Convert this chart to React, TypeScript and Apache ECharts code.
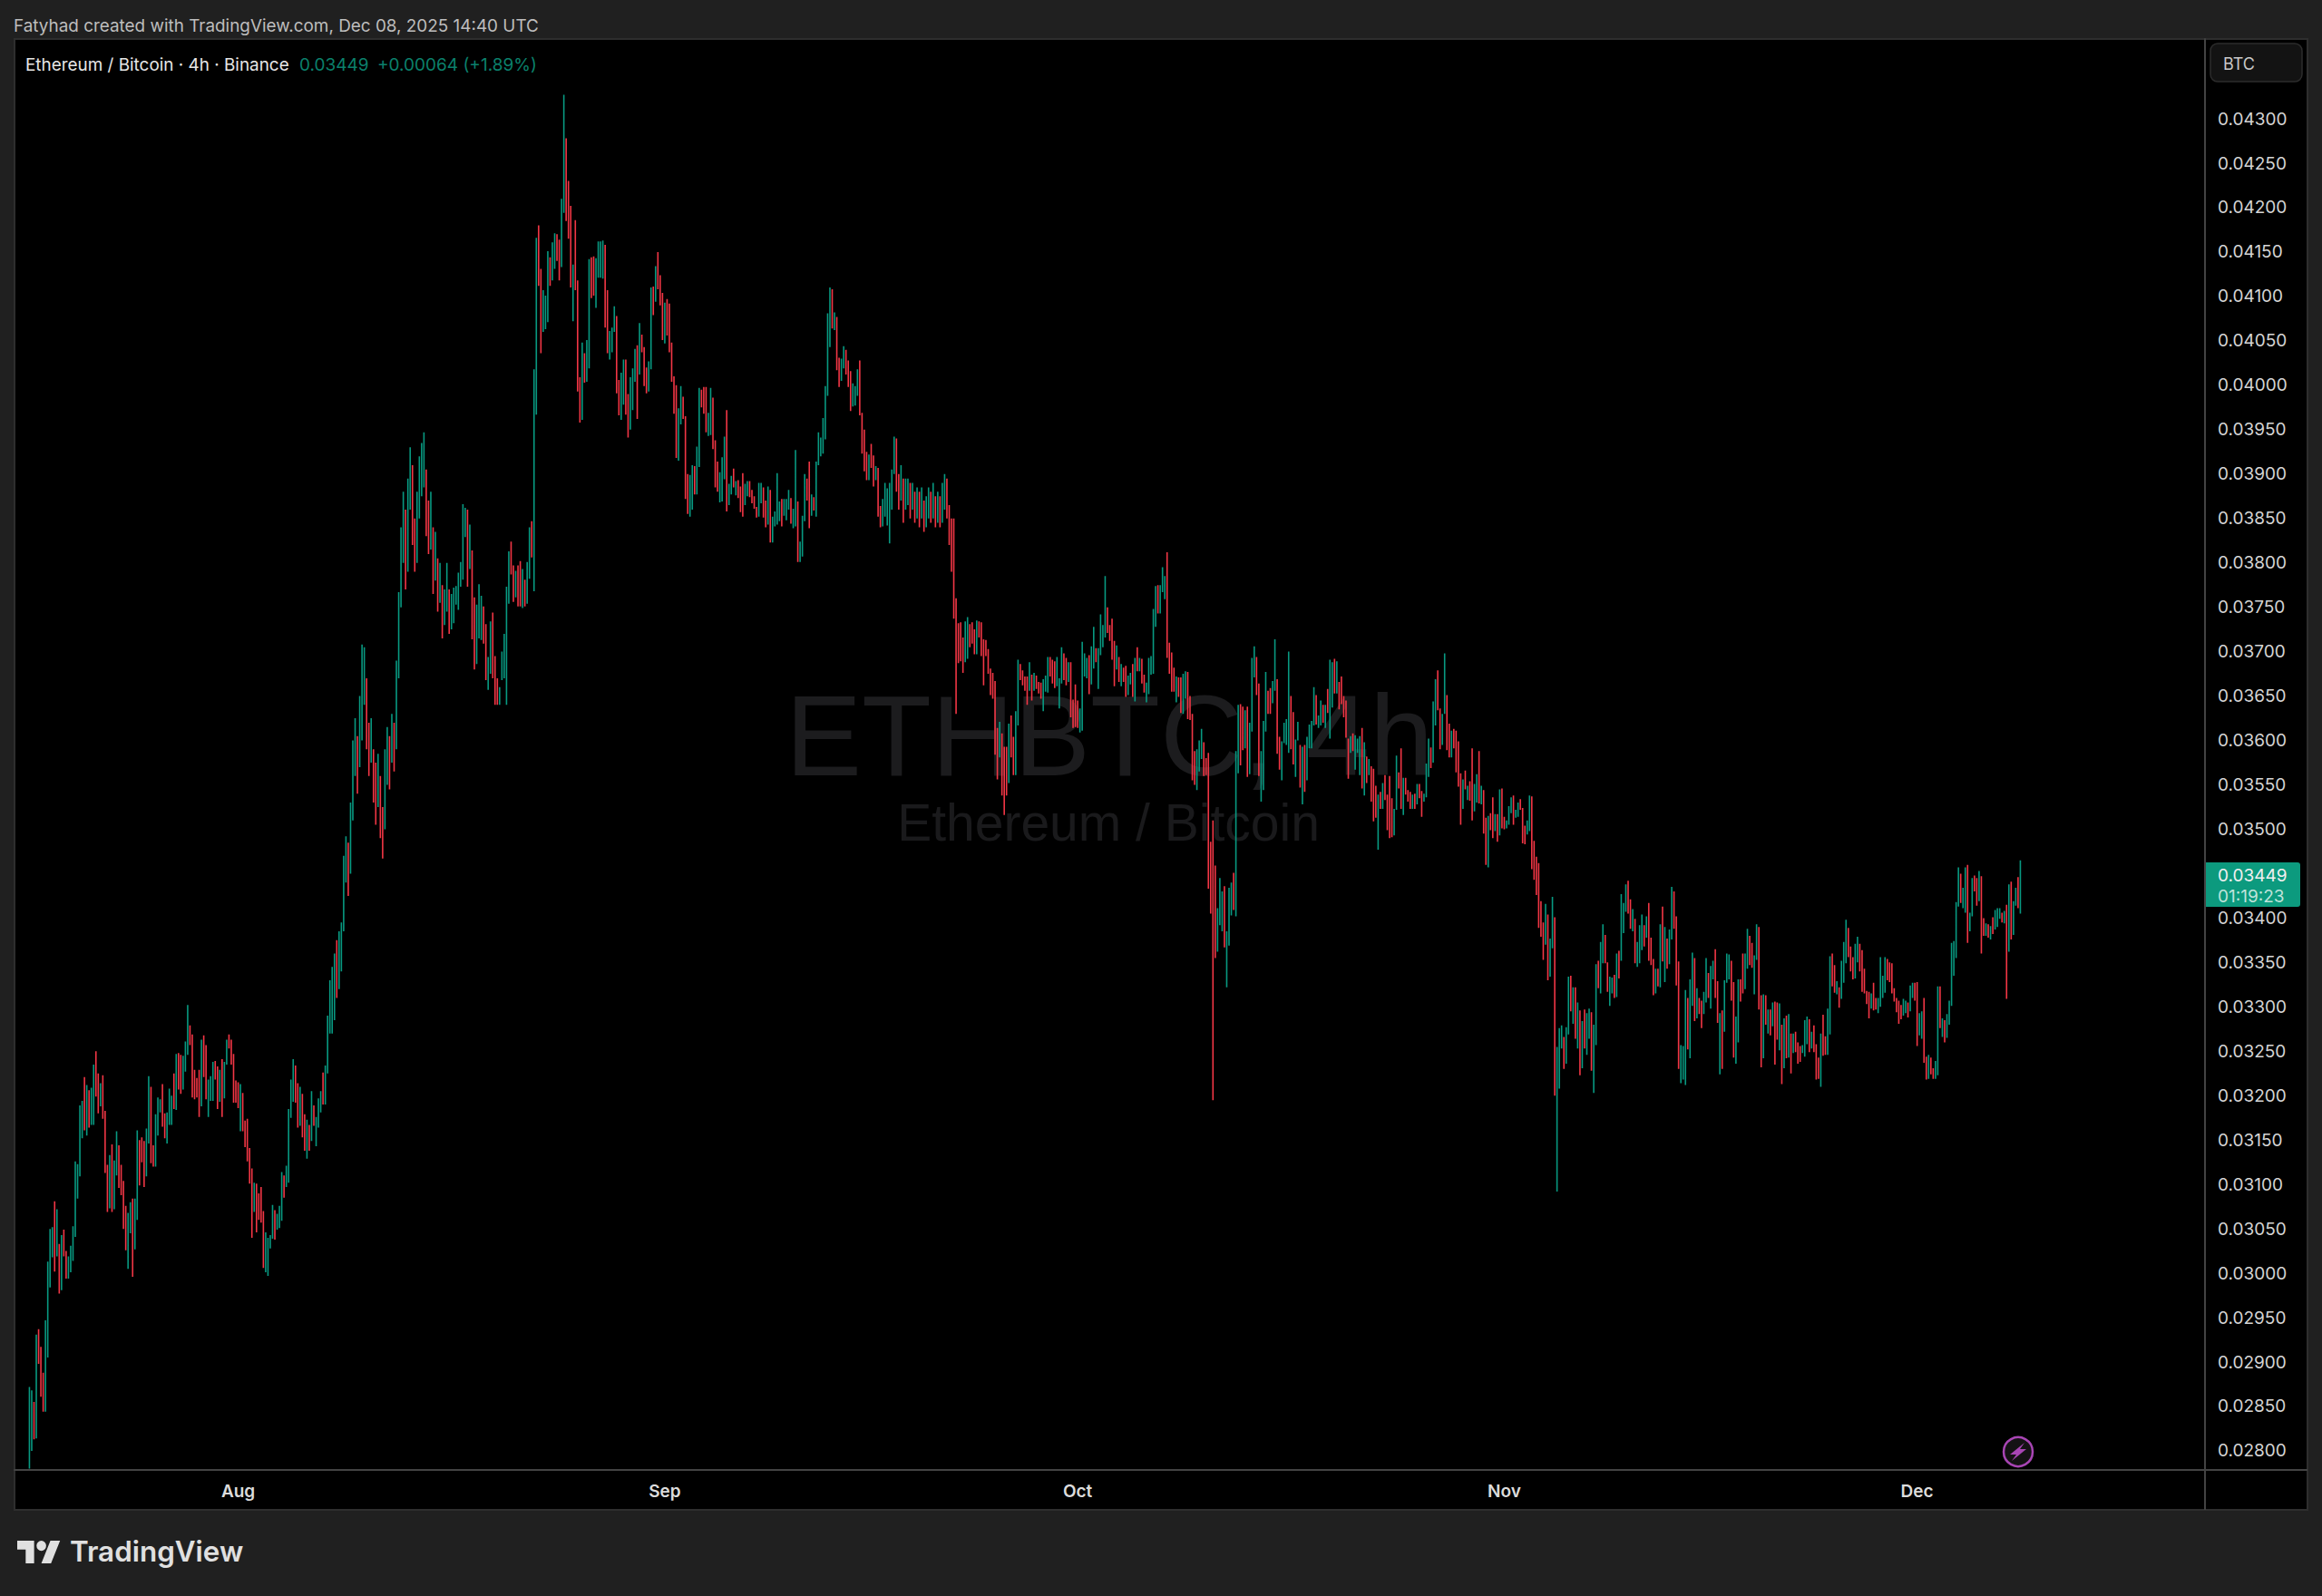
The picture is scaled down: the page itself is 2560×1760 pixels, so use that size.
import { useEffect, useRef } from 'react';
import * as echarts from 'echarts';

// prices in units of 0.00001 BTC
const highs = [
  2872, 2868, 2855, 2931, 2937, 2917, 2888, 2947, 3013, 3050, 3052, 3081, 3072, 3033, 3043, 3049, 3025, 3019, 3031, 3053,
  3126, 3123, 3189, 3194, 3221, 3212, 3206, 3209, 3235, 3250, 3225, 3214, 3223, 3183, 3122, 3133, 3145, 3127, 3160, 3144,
  3122, 3104, 3076, 3068, 3080, 3084, 3084, 3161, 3150, 3153, 3149, 3163, 3222, 3210, 3144, 3179, 3198, 3196, 3213, 3180,
  3181, 3208, 3200, 3225, 3247, 3248, 3246, 3245, 3261, 3302, 3279, 3269, 3229, 3220, 3229, 3263, 3268, 3257, 3218, 3222,
  3238, 3239, 3233, 3229, 3241, 3238, 3263, 3269, 3263, 3247, 3217, 3215, 3213, 3203, 3172, 3174, 3141, 3118, 3102, 3101,
  3090, 3097, 3070, 3046, 3040, 3043, 3077, 3071, 3067, 3076, 3114, 3110, 3121, 3185, 3218, 3241, 3234, 3214, 3210, 3202,
  3179, 3173, 3167, 3205, 3189, 3176, 3197, 3205, 3226, 3234, 3290, 3330, 3345, 3360, 3375, 3385, 3395, 3470, 3492, 3485,
  3530, 3600, 3625, 3605, 3650, 3708, 3705, 3670, 3620, 3625, 3590, 3575, 3585, 3560, 3525, 3590, 3615, 3605, 3630, 3620,
  3690, 3767, 3840, 3880, 3860, 3895, 3930, 3910, 3850, 3880, 3920, 3935, 3947, 3905, 3870, 3880, 3840, 3835, 3805, 3800,
  3775, 3770, 3800, 3770, 3765, 3772, 3774, 3789, 3801, 3866, 3862, 3860, 3843, 3814, 3761,
  3753, 3776, 3763, 3751, 3731, 3694, 3734, 3744, 3695, 3670, 3660, 3700, 3720, 3773, 3813, 3824, 3797, 3791, 3797, 3802,
  3793, 3781, 3801, 3840, 3847, 4018, 4166, 4180, 4131, 4107, 4101, 4151, 4144, 4161, 4171, 4170, 4164, 4210, 4327, 4278,
  4230, 4202, 4136, 4186, 4118, 4009, 4048, 4036, 4051, 4142, 4144, 4145, 4143, 4162, 4162, 4163, 4158, 4107, 4061, 4065,
  4089, 4078, 4006, 4014, 4029, 4029, 3990, 4009, 4019, 4041, 4045, 4070, 4057, 4043, 4020, 4027, 4110, 4111, 4134, 4150,
  4124, 4104, 4093, 4097, 4092, 4048, 4010, 4000, 3974, 3999, 3987, 3965, 3900, 3899, 3910, 3909, 3931, 3997, 3995, 3998,
  3998, 3969, 3997, 3986, 3938, 3914, 3902, 3919, 3942, 3972, 3889, 3898, 3906, 3892, 3893, 3886, 3901, 3889, 3892, 3892,
  3882, 3875, 3863, 3890, 3890, 3885, 3870, 3886, 3882, 3852, 3858, 3901, 3869, 3872, 3872, 3872, 3882, 3873, 3861, 3927,
  3869, 3824, 3853, 3900, 3895, 3914, 3877, 3874, 3914, 3947, 3941, 3963, 3999, 4081, 4110, 4108, 4082, 4077, 4031, 4030,
  4044, 4040, 4028, 4016, 4002, 3999, 4018, 4028, 3969, 3950, 3925, 3922, 3934, 3921, 3909, 3907, 3864, 3872, 3890, 3884,
  3890, 3905, 3942, 3940, 3900, 3910, 3895, 3895, 3895, 3890, 3890, 3880, 3885, 3880, 3885, 3870, 3875, 3885, 3880, 3890,
  3875, 3880, 3875, 3890, 3900, 3895, 3865, 3850, 3850, 3760, 3732, 3733, 3716, 3734, 3739, 3731, 3733, 3725, 3735, 3734,
  3733, 3714, 3713, 3703, 3681, 3676, 3667, 3614, 3621, 3608, 3593, 3593, 3619, 3628, 3604, 3633, 3691, 3686, 3679, 3672,
  3672, 3688, 3674, 3676, 3673, 3666, 3665, 3669, 3673, 3694, 3694, 3691, 3689, 3694, 3670, 3705, 3698, 3693, 3688, 3688,
  3646, 3663, 3645, 3636, 3711, 3698, 3693, 3696, 3706, 3728, 3704, 3704, 3742, 3730, 3785, 3750, 3730, 3737, 3712, 3707,
  3694, 3686, 3682, 3684, 3673, 3676, 3686, 3693, 3705, 3693, 3692, 3674, 3665, 3693, 3695, 3748, 3774, 3775, 3775, 3795,
  3785, 3812, 3710, 3699, 3682, 3672, 3671, 3671, 3675, 3678, 3677, 3650, 3630, 3588, 3590, 3600, 3613, 3598, 3580, 3586,
  3486, 3510, 3459, 3411, 3445, 3430, 3436, 3385, 3434, 3440, 3451, 3588, 3640, 3641, 3638, 3634, 3638, 3620, 3693, 3706,
  3694, 3664, 3588, 3622, 3677, 3656, 3659, 3667, 3714, 3669, 3604, 3599, 3620, 3624, 3700, 3650, 3632, 3601, 3621, 3595,
  3593, 3595, 3604, 3618, 3622, 3660, 3651, 3628, 3645, 3640, 3640, 3658, 3691, 3688, 3692, 3689, 3666, 3672, 3650, 3645,
  3602, 3605, 3608, 3606, 3602, 3605, 3614, 3598, 3582, 3579, 3571, 3568, 3549, 3539, 3542, 3552, 3561, 3539, 3560, 3535,
  3523, 3583, 3564, 3591, 3558, 3558, 3544, 3542, 3539, 3540, 3551, 3551, 3543, 3540, 3574, 3602, 3592, 3644, 3669, 3679,
  3636, 3630, 3698, 3651, 3619, 3611, 3613, 3611, 3599, 3563, 3556, 3566, 3549, 3554, 3591, 3551, 3562, 3588, 3549, 3544,
  3513, 3515, 3518, 3536, 3517, 3517, 3545, 3546, 3514, 3510, 3526, 3536, 3538, 3522, 3530, 3534, 3524, 3504, 3510, 3538,
  3537, 3487, 3469, 3462, 3419, 3395, 3416, 3404, 3377, 3424, 3401, 3255, 3276, 3279, 3266, 3277, 3334, 3335, 3322, 3322,
  3305, 3296, 3284, 3297, 3293, 3298, 3294, 3280, 3348, 3352, 3373, 3393, 3381, 3350, 3334, 3333, 3336, 3360, 3363, 3427,
  3417, 3438, 3442, 3421, 3410, 3399, 3373, 3392, 3404, 3392, 3402, 3417, 3378, 3354, 3343, 3343, 3393, 3413, 3390, 3377,
  3387, 3435, 3430, 3402, 3351, 3257, 3256, 3319, 3310, 3331, 3361, 3355, 3321, 3310, 3307, 3317, 3355, 3338, 3346, 3352,
  3365, 3329, 3293, 3296, 3330, 3360, 3359, 3352, 3328, 3289, 3331, 3331, 3360, 3360, 3388, 3380, 3372, 3358, 3393, 3390,
  3313, 3314, 3313, 3297, 3297, 3305, 3306, 3305, 3304, 3280, 3287, 3290, 3292, 3270, 3270, 3272, 3260, 3256, 3257, 3285,
  3289, 3286, 3272, 3279, 3258, 3243, 3270, 3291, 3267, 3298, 3357, 3360, 3347, 3329, 3322, 3352, 3373, 3398, 3389, 3368,
  3356, 3371, 3379, 3371, 3364, 3343, 3318, 3317, 3315, 3327, 3310, 3310, 3356, 3335, 3356, 3354, 3350, 3349, 3321, 3310,
  3307, 3302, 3309, 3307, 3305, 3324, 3327, 3327, 3328, 3293, 3295, 3310, 3244, 3246, 3243, 3231, 3239, 3323, 3323, 3287,
  3285, 3292, 3307, 3372, 3374, 3418, 3457, 3450, 3434, 3457, 3460, 3406, 3445, 3448, 3445, 3453, 3447, 3400, 3394, 3393,
  3391, 3401, 3409, 3411, 3411, 3406, 3408, 3415, 3438, 3441, 3419, 3434, 3446, 3465,
];

const lows = [
  2780, 2800, 2813, 2814, 2898, 2861, 2844, 2844, 2905, 2984, 3018, 3002, 3019, 2977, 2981, 3019, 2994, 2994, 3001, 3014,
  3041, 3084, 3109, 3152, 3161, 3155, 3164, 3167, 3167, 3199, 3180, 3188, 3174, 3113, 3069, 3073, 3069, 3072, 3110, 3096,
  3088, 3050, 3026, 3005, 3045, 2996, 3027, 3060, 3099, 3125, 3097, 3109, 3146, 3124, 3120, 3120, 3155, 3181, 3165, 3152,
  3146, 3167, 3167, 3185, 3184, 3207, 3202, 3207, 3227, 3246, 3257, 3198, 3196, 3198, 3176, 3188, 3221, 3196, 3176, 3194,
  3194, 3218, 3185, 3193, 3176, 3197, 3235, 3253, 3235, 3192, 3192, 3186, 3160, 3160, 3142, 3126, 3101, 3040, 3069, 3046,
  3060, 3057, 3006, 3001, 2997, 3028, 3039, 3038, 3049, 3051, 3059, 3085, 3097, 3102, 3175, 3193, 3192, 3164, 3166, 3153,
  3138, 3129, 3138, 3149, 3166, 3143, 3164, 3181, 3190, 3190, 3225, 3270, 3270, 3285, 3310, 3320, 3340, 3385, 3440, 3425,
  3450, 3510, 3560, 3540, 3570, 3600, 3640, 3590, 3560, 3575, 3530, 3505, 3525, 3490, 3467, 3500, 3550, 3545, 3575, 3565,
  3590, 3670, 3750, 3800, 3770, 3790, 3860, 3820, 3790, 3800, 3850, 3875, 3885, 3830, 3810, 3815, 3765, 3780, 3745, 3755,
  3715, 3730, 3745, 3720, 3725, 3732, 3753, 3747, 3773, 3781, 3829, 3773, 3793, 3714, 3680,
  3686, 3715, 3713, 3709, 3668, 3657, 3675, 3670, 3640, 3640, 3640, 3668, 3670, 3640, 3754, 3787, 3756, 3761, 3751, 3751,
  3749, 3751, 3754, 3782, 3806, 3768, 3967, 4112, 4036, 4060, 4063, 4071, 4112, 4118, 4131, 4140, 4118, 4133, 4194, 4185,
  4165, 4110, 4072, 4107, 3993, 3958, 3961, 4003, 4004, 4019, 4098, 4101, 4087, 4121, 4121, 4120, 4065, 4036, 4029, 4037,
  4060, 3991, 3966, 3961, 3978, 3967, 3941, 3950, 3972, 4004, 3962, 4012, 4037, 3999, 3991, 3993, 4018, 4079, 4094, 4108,
  4090, 4051, 4047, 4056, 4037, 4004, 3968, 3918, 3915, 3956, 3962, 3872, 3855, 3852, 3860, 3877, 3877, 3908, 3975, 3968,
  3947, 3943, 3944, 3928, 3885, 3880, 3868, 3869, 3894, 3858, 3865, 3877, 3885, 3876, 3873, 3857, 3852, 3865, 3875, 3874,
  3867, 3861, 3851, 3852, 3867, 3851, 3840, 3843, 3823, 3823, 3841, 3843, 3847, 3841, 3853, 3848, 3860, 3844, 3839, 3841,
  3801, 3801, 3807, 3847, 3870, 3839, 3853, 3859, 3852, 3910, 3920, 3923, 3939, 3988, 4043, 4064, 4062, 4017, 3998, 4005,
  4019, 4012, 3998, 3971, 3976, 3977, 3988, 3966, 3923, 3903, 3893, 3893, 3907, 3886, 3893, 3852, 3840, 3841, 3852, 3842,
  3822, 3860, 3900, 3880, 3860, 3870, 3845, 3860, 3865, 3850, 3860, 3845, 3850, 3840, 3850, 3835, 3840, 3850, 3845, 3850,
  3840, 3845, 3840, 3845, 3860, 3850, 3820, 3790, 3737, 3630, 3687, 3689, 3676, 3688, 3692, 3705, 3709, 3697, 3697, 3716,
  3695, 3662, 3695, 3675, 3651, 3647, 3584, 3556, 3581, 3538, 3516, 3538, 3552, 3581, 3561, 3561, 3617, 3668, 3662, 3656,
  3640, 3656, 3645, 3656, 3658, 3653, 3647, 3633, 3655, 3654, 3672, 3664, 3659, 3661, 3636, 3664, 3668, 3662, 3666, 3626,
  3614, 3615, 3614, 3609, 3611, 3672, 3670, 3652, 3663, 3681, 3688, 3658, 3696, 3705, 3716, 3721, 3712, 3691, 3661, 3680,
  3666, 3661, 3666, 3649, 3651, 3663, 3649, 3644, 3678, 3678, 3664, 3654, 3643, 3652, 3674, 3675, 3728, 3743, 3743, 3767,
  3759, 3693, 3675, 3655, 3655, 3643, 3649, 3631, 3630, 3647, 3624, 3623, 3555, 3550, 3544, 3565, 3579, 3560, 3561, 3433,
  3405, 3195, 3355, 3362, 3392, 3385, 3367, 3322, 3369, 3403, 3409, 3402, 3563, 3572, 3589, 3591, 3559, 3562, 3610, 3671,
  3651, 3560, 3531, 3544, 3610, 3630, 3630, 3642, 3656, 3585, 3567, 3555, 3597, 3595, 3586, 3590, 3573, 3559, 3600, 3547,
  3528, 3542, 3555, 3591, 3591, 3617, 3618, 3614, 3617, 3620, 3614, 3631, 3602, 3637, 3653, 3653, 3635, 3641, 3626, 3603,
  3557, 3586, 3588, 3567, 3586, 3561, 3546, 3538, 3552, 3561, 3531, 3509, 3513, 3477, 3523, 3523, 3533, 3499, 3490, 3491,
  3493, 3522, 3546, 3523, 3516, 3539, 3531, 3523, 3523, 3523, 3528, 3535, 3514, 3531, 3536, 3559, 3569, 3575, 3617, 3634,
  3590, 3595, 3630, 3589, 3581, 3581, 3591, 3564, 3548, 3505, 3523, 3545, 3533, 3532, 3510, 3520, 3530, 3529, 3528, 3495,
  3460, 3457, 3499, 3490, 3498, 3486, 3493, 3501, 3500, 3501, 3505, 3518, 3505, 3513, 3514, 3522, 3484, 3483, 3494, 3498,
  3455, 3443, 3426, 3389, 3379, 3353, 3370, 3330, 3334, 3366, 3200, 3092, 3208, 3253, 3230, 3236, 3269, 3295, 3281, 3264,
  3253, 3223, 3231, 3253, 3246, 3264, 3228, 3203, 3257, 3321, 3315, 3349, 3349, 3317, 3301, 3315, 3310, 3311, 3332, 3352,
  3383, 3407, 3405, 3388, 3385, 3349, 3345, 3349, 3364, 3368, 3378, 3352, 3347, 3313, 3315, 3323, 3322, 3351, 3328, 3343,
  3348, 3376, 3388, 3324, 3230, 3214, 3218, 3212, 3252, 3242, 3301, 3284, 3287, 3292, 3276, 3292, 3305, 3310, 3298, 3331,
  3310, 3282, 3224, 3230, 3272, 3327, 3331, 3307, 3243, 3236, 3260, 3306, 3315, 3320, 3343, 3347, 3344, 3314, 3353, 3297,
  3232, 3242, 3280, 3270, 3268, 3278, 3235, 3263, 3251, 3213, 3231, 3242, 3243, 3225, 3248, 3249, 3236, 3238, 3248, 3244,
  3258, 3249, 3253, 3249, 3218, 3219, 3210, 3245, 3246, 3246, 3269, 3323, 3316, 3314, 3299, 3309, 3327, 3349, 3356, 3340,
  3331, 3332, 3350, 3340, 3317, 3315, 3303, 3287, 3298, 3296, 3297, 3293, 3300, 3310, 3316, 3330, 3328, 3315, 3306, 3294,
  3281, 3286, 3290, 3293, 3288, 3295, 3310, 3307, 3256, 3268, 3264, 3237, 3218, 3219, 3224, 3219, 3219, 3223, 3276, 3266,
  3260, 3265, 3280, 3301, 3335, 3355, 3413, 3417, 3411, 3406, 3372, 3385, 3402, 3430, 3414, 3419, 3360, 3380, 3380, 3378,
  3376, 3382, 3387, 3390, 3399, 3395, 3394, 3309, 3362, 3376, 3381, 3414, 3411, 3405,
];

const closes = [
  2860, 2865, 2825, 2925, 2908, 2870, 2850, 2935, 3000, 3040, 3045, 3015, 3062, 2990, 3035, 3025, 3000, 3012, 3025, 3045,
  3110, 3115, 3175, 3185, 3170, 3200, 3172, 3200, 3225, 3205, 3190, 3208, 3182, 3125, 3080, 3120, 3080, 3115, 3150, 3105,
  3095, 3060, 3035, 3060, 3072, 3010, 3078, 3150, 3140, 3130, 3105, 3155, 3210, 3135, 3125, 3170, 3190, 3193, 3172, 3158,
  3175, 3190, 3195, 3190, 3240, 3215, 3210, 3238, 3255, 3270, 3262, 3210, 3203, 3200, 3182, 3255, 3228, 3205, 3212, 3218,
  3230, 3222, 3195, 3222, 3190, 3230, 3255, 3254, 3240, 3200, 3197, 3192, 3205, 3170, 3150, 3135, 3110, 3055, 3095, 3075,
  3070, 3062, 3015, 3035, 3038, 3040, 3070, 3045, 3060, 3070, 3105, 3090, 3115, 3175, 3210, 3235, 3200, 3170, 3200, 3160,
  3145, 3165, 3148, 3195, 3168, 3170, 3190, 3200, 3195, 3225, 3280, 3320, 3335, 3350, 3325, 3375, 3385, 3455, 3480, 3440,
  3520, 3585, 3615, 3555, 3635, 3695, 3700, 3610, 3575, 3610, 3545, 3515, 3570, 3505, 3480, 3575, 3605, 3560, 3620, 3575,
  3680, 3755, 3830, 3870, 3785, 3885, 3920, 3830, 3800, 3870, 3910, 3925, 3935, 3850, 3820, 3870, 3785, 3825, 3760, 3790,
  3725, 3762, 3790, 3730, 3735, 3765, 3770, 3780, 3795, 3855, 3858, 3790, 3835, 3730, 3695,
  3745, 3755, 3760, 3715, 3680, 3688, 3725, 3685, 3660, 3648, 3655, 3690, 3710, 3765, 3805, 3795, 3765, 3785, 3760, 3758,
  3785, 3760, 3795, 3830, 3815, 4005, 4150, 4125, 4050, 4095, 4098, 4140, 4118, 4150, 4165, 4148, 4125, 4195, 4290, 4200,
  4180, 4120, 4130, 4115, 4005, 3970, 4035, 4030, 4045, 4130, 4110, 4105, 4135, 4150, 4155, 4160, 4080, 4045, 4055, 4060,
  4080, 4005, 3975, 4005, 4020, 3980, 3950, 4000, 4012, 4035, 3990, 4060, 4045, 4010, 3998, 4020, 4100, 4085, 4125, 4115,
  4098, 4060, 4085, 4065, 4045, 4012, 3978, 3930, 3960, 3990, 3968, 3885, 3865, 3890, 3905, 3885, 3925, 3985, 3980, 3975,
  3955, 3962, 3985, 3940, 3895, 3885, 3895, 3912, 3935, 3870, 3880, 3890, 3888, 3890, 3878, 3865, 3860, 3882, 3888, 3878,
  3870, 3865, 3855, 3882, 3885, 3856, 3845, 3875, 3830, 3848, 3852, 3860, 3865, 3850, 3865, 3868, 3875, 3850, 3855, 3910,
  3810, 3818, 3845, 3890, 3875, 3855, 3870, 3862, 3905, 3935, 3938, 3955, 3990, 4070, 4090, 4070, 4078, 4025, 4005, 4022,
  4035, 4018, 4005, 3980, 3990, 3995, 4010, 3975, 3935, 3915, 3898, 3915, 3912, 3895, 3905, 3860, 3845, 3865, 3880, 3882,
  3886, 3900, 3935, 3890, 3868, 3900, 3855, 3885, 3890, 3858, 3880, 3852, 3878, 3848, 3875, 3842, 3865, 3878, 3855, 3880,
  3848, 3872, 3845, 3880, 3892, 3860, 3830, 3800, 3745, 3700, 3695, 3692, 3682, 3725, 3730, 3712, 3710, 3702, 3728, 3722,
  3702, 3698, 3697, 3680, 3658, 3652, 3595, 3570, 3612, 3560, 3550, 3545, 3610, 3590, 3570, 3625, 3680, 3672, 3666, 3660,
  3650, 3680, 3652, 3670, 3662, 3658, 3652, 3660, 3668, 3685, 3680, 3672, 3661, 3664, 3667, 3698, 3675, 3668, 3682, 3640,
  3625, 3620, 3616, 3630, 3675, 3680, 3688, 3665, 3695, 3715, 3695, 3700, 3720, 3725, 3770, 3730, 3720, 3700, 3675, 3700,
  3672, 3680, 3670, 3655, 3668, 3672, 3655, 3685, 3682, 3688, 3670, 3660, 3662, 3685, 3690, 3740, 3765, 3750, 3770, 3780,
  3783, 3700, 3685, 3665, 3660, 3665, 3655, 3640, 3668, 3672, 3630, 3628, 3565, 3555, 3580, 3592, 3605, 3570, 3565, 3450,
  3420, 3400, 3365, 3400, 3410, 3420, 3375, 3380, 3425, 3432, 3420, 3570, 3625, 3600, 3595, 3625, 3570, 3610, 3680, 3700,
  3660, 3575, 3580, 3610, 3665, 3640, 3635, 3660, 3700, 3595, 3575, 3590, 3612, 3618, 3685, 3600, 3580, 3595, 3615, 3560,
  3585, 3550, 3595, 3610, 3615, 3650, 3625, 3627, 3638, 3622, 3638, 3635, 3680, 3682, 3660, 3680, 3650, 3645, 3635, 3610,
  3570, 3598, 3592, 3598, 3600, 3603, 3555, 3590, 3560, 3575, 3545, 3530, 3520, 3530, 3528, 3545, 3538, 3510, 3505, 3500,
  3515, 3570, 3550, 3530, 3550, 3542, 3535, 3528, 3532, 3527, 3545, 3540, 3525, 3537, 3565, 3590, 3575, 3630, 3660, 3645,
  3600, 3622, 3685, 3600, 3590, 3605, 3598, 3575, 3555, 3515, 3550, 3546, 3548, 3540, 3520, 3545, 3555, 3535, 3545, 3505,
  3470, 3505, 3502, 3495, 3510, 3495, 3535, 3510, 3505, 3507, 3520, 3530, 3512, 3518, 3525, 3523, 3490, 3488, 3505, 3530,
  3470, 3450, 3435, 3400, 3385, 3360, 3395, 3345, 3365, 3410, 3225, 3235, 3265, 3272, 3240, 3265, 3325, 3305, 3315, 3275,
  3295, 3235, 3270, 3260, 3285, 3290, 3240, 3270, 3340, 3330, 3365, 3385, 3355, 3325, 3328, 3330, 3318, 3350, 3340, 3405,
  3410, 3430, 3415, 3395, 3405, 3360, 3368, 3385, 3395, 3375, 3395, 3360, 3355, 3320, 3335, 3328, 3385, 3360, 3380, 3350,
  3375, 3425, 3400, 3335, 3240, 3250, 3252, 3305, 3265, 3320, 3350, 3295, 3315, 3300, 3285, 3310, 3345, 3320, 3335, 3345,
  3318, 3285, 3288, 3240, 3320, 3350, 3355, 3315, 3255, 3280, 3322, 3318, 3316, 3350, 3378, 3355, 3350, 3352, 3385, 3305,
  3240, 3305, 3285, 3292, 3275, 3298, 3275, 3270, 3295, 3225, 3275, 3250, 3280, 3235, 3262, 3255, 3245, 3242, 3252, 3275,
  3282, 3260, 3268, 3255, 3225, 3222, 3262, 3255, 3250, 3290, 3345, 3330, 3320, 3325, 3305, 3342, 3365, 3390, 3365, 3350,
  3340, 3360, 3372, 3350, 3330, 3322, 3308, 3295, 3308, 3300, 3298, 3305, 3325, 3330, 3345, 3335, 3332, 3320, 3310, 3300,
  3288, 3287, 3300, 3303, 3295, 3315, 3322, 3312, 3265, 3285, 3290, 3245, 3225, 3238, 3230, 3225, 3232, 3310, 3280, 3283,
  3270, 3285, 3300, 3360, 3365, 3405, 3445, 3425, 3428, 3450, 3395, 3398, 3435, 3432, 3420, 3445, 3395, 3385, 3390, 3382,
  3388, 3385, 3402, 3405, 3408, 3400, 3404, 3395, 3425, 3390, 3410, 3428, 3420, 3449,
];

const tickLabels = [
  '0.04300', '0.04250', '0.04200', '0.04150', '0.04100', '0.04050', '0.04000', '0.03950', '0.03900', '0.03850', '0.03800',
  '0.03750', '0.03700', '0.03650', '0.03600', '0.03550', '0.03500', '0.03400', '0.03350', '0.03300', '0.03250',
  '0.03200', '0.03150', '0.03100', '0.03050', '0.03000', '0.02950', '0.02900', '0.02850', '0.02800',
];

const monthLabels: Record<string, string> = {
  '2025-08-01T00': 'Aug',
  '2025-09-01T00': 'Sep',
  '2025-10-01T00': 'Oct',
  '2025-11-01T00': 'Nov',
  '2025-12-01T00': 'Dec',
};

const LEAD_BARS = 6;
const SLOT_COUNT = 955;
const FIRST_SLOT = Date.UTC(2025, 7, 1) - 97 * 4 * 3600 * 1000;
const categories = Array.from({ length: SLOT_COUNT }, (_, i) =>
  new Date(FIRST_SLOT + i * 4 * 3600 * 1000).toISOString().slice(0, 13)
);

const UP = '#089981';
const DOWN = '#f23645';
const FONT = 'Inter, "Noto Sans", sans-serif';

const toPrice = (v: number) => v / 100000;

const candles = closes.map((close, i) => {
  const prev = i === 0 ? lows[0] : closes[i - 1];
  const open = Math.min(highs[i], Math.max(lows[i], prev));
  return [toPrice(open), toPrice(close), toPrice(lows[i]), toPrice(highs[i])];
});

echarts.graphic.registerShape(
  'tvLogo',
  echarts.graphic.extendPath('M14 22H7V11H0V4h14v18zM28 22h-8l7.5-18h8L28 22zM24 8a4 4 0 1 1-8 0 4 4 0 0 1 8 0z', {})
);

export default function App() {
  const chartRef = useRef<HTMLDivElement>(null);

  useEffect(() => {
    if (!chartRef.current) return;
    const chart = echarts.init(chartRef.current, undefined, { renderer: 'svg' });

    chart.setOption({
      animation: false,
      backgroundColor: '#202020',
      grid: { left: 16, right: 129, top: 43, bottom: 139 },
      xAxis: {
        type: 'category',
        data: categories,
        axisLine: { show: true, lineStyle: { color: '#434343', width: 2 } },
        axisTick: { show: false },
        splitLine: { show: false },
        axisLabel: {
          interval: (_: number, value: string) => monthLabels[value] !== undefined,
          formatter: (value: string) => monthLabels[value] ?? '',
          color: '#dcdcdc',
          fontFamily: FONT,
          fontSize: 19,
          fontWeight: 600,
          margin: 14,
        },
      },
      yAxis: {
        type: 'value',
        position: 'right',
        min: 0.027785,
        max: 0.043899,
        axisLine: { show: true, lineStyle: { color: '#434343', width: 2 } },
        axisTick: { show: false },
        splitLine: { show: false },
        axisLabel: {
          customValues: tickLabels.map(Number),
          formatter: (v: number) => v.toFixed(5),
          color: '#d4d4d4',
          fontFamily: FONT,
          fontSize: 19,
          margin: 14,
        },
      },
      series: [
        {
          type: 'candlestick',
          barWidth: 1,
          data: [...Array.from({ length: LEAD_BARS }, () => ['-', '-', '-', '-']), ...candles],
          itemStyle: { color: UP, color0: DOWN, borderColor: UP, borderColor0: DOWN, borderWidth: 1.6 },
          z: 3,
        },
      ],
      graphic: [
        { type: 'rect', z: -5, shape: { x: 16, y: 43, width: 2528, height: 1622 }, style: { fill: '#000', stroke: '#2e2e2e', lineWidth: 2 } },
        { type: 'line', z: 5, shape: { x1: 2431, y1: 1621, x2: 2431, y2: 1665 }, style: { stroke: '#434343', lineWidth: 2 } },
        { type: 'line', z: 5, shape: { x1: 2431, y1: 1621, x2: 2544, y2: 1621 }, style: { stroke: '#434343', lineWidth: 2 } },

        { type: 'text', z: 5, x: 15, y: 28, style: { text: 'Fatyhad created with TradingView.com, Dec 08, 2025 14:40 UTC', fill: '#bdbdbd', font: `18.9px ${FONT}`, verticalAlign: 'middle' } },
        { type: 'text', z: 5, x: 28, y: 71, style: { text: 'Ethereum / Bitcoin · 4h · Binance', fill: '#e6e6e6', font: `18.9px ${FONT}`, verticalAlign: 'middle' } },
        { type: 'text', z: 5, x: 330, y: 71, style: { text: '0.03449', fill: '#0b806c', font: `19px ${FONT}`, verticalAlign: 'middle' } },
        { type: 'text', z: 5, x: 416, y: 71, style: { text: '+0.00064 (+1.89%)', fill: '#0b806c', font: `19px ${FONT}`, verticalAlign: 'middle' } },

        { type: 'text', z: -2, x: 1223, y: 811, style: { text: 'ETHBTC, 4h', fill: '#1c1c1e', font: '126px "Liberation Sans", Arial, sans-serif', align: 'center', verticalAlign: 'middle' } },
        { type: 'text', z: -2, x: 1222, y: 907, style: { text: 'Ethereum / Bitcoin', fill: '#1a1a1c', font: '57px "Liberation Sans", Arial, sans-serif', align: 'center', verticalAlign: 'middle' } },

        { type: 'rect', z: 5, shape: { x: 2437, y: 48, width: 101, height: 42, r: 8 }, style: { fill: '#131313', stroke: '#2c2c2c', lineWidth: 1.5 } },
        { type: 'text', z: 6, x: 2451, y: 70, style: { text: 'BTC', fill: '#c8c8c8', font: `18px ${FONT}`, verticalAlign: 'middle' } },

        { type: 'rect', z: 7, shape: { x: 2432, y: 951, width: 104, height: 49, r: [0, 3, 3, 0] }, style: { fill: '#0c9a7e' } },
        { type: 'text', z: 8, x: 2445, y: 965, style: { text: '0.03449', fill: '#f0f0f0', font: `19px ${FONT}`, verticalAlign: 'middle' } },
        { type: 'text', z: 8, x: 2445, y: 988, style: { text: '01:19:23', fill: '#bfe3da', font: `19px ${FONT}`, verticalAlign: 'middle' } },

        { type: 'circle', z: 5, shape: { cx: 2225, cy: 1601, r: 16 }, style: { fill: '#141214', stroke: '#a845b4', lineWidth: 2.5 } },
        { type: 'polygon', z: 6, shape: { points: [[2232, 1591], [2216, 1604], [2223, 1604], [2218, 1611], [2234, 1598], [2227, 1598]] }, style: { fill: '#a845b4' } },

        { type: 'tvLogo', z: 5, x: 19, y: 1693.5, scaleX: 1.33, scaleY: 1.39, style: { fill: '#e0e0e0' } },
        { type: 'text', z: 5, x: 77, y: 1711, style: { text: 'TradingView', fill: '#e0e0e0', font: `600 31.4px ${FONT}`, verticalAlign: 'middle' } },
      ],
    });

    return () => {
      chart.dispose();
    };
  }, []);

  return <div ref={chartRef} style={{ position: 'fixed', left: 0, top: 0, width: 2560, height: 1760 }}></div>;
}
